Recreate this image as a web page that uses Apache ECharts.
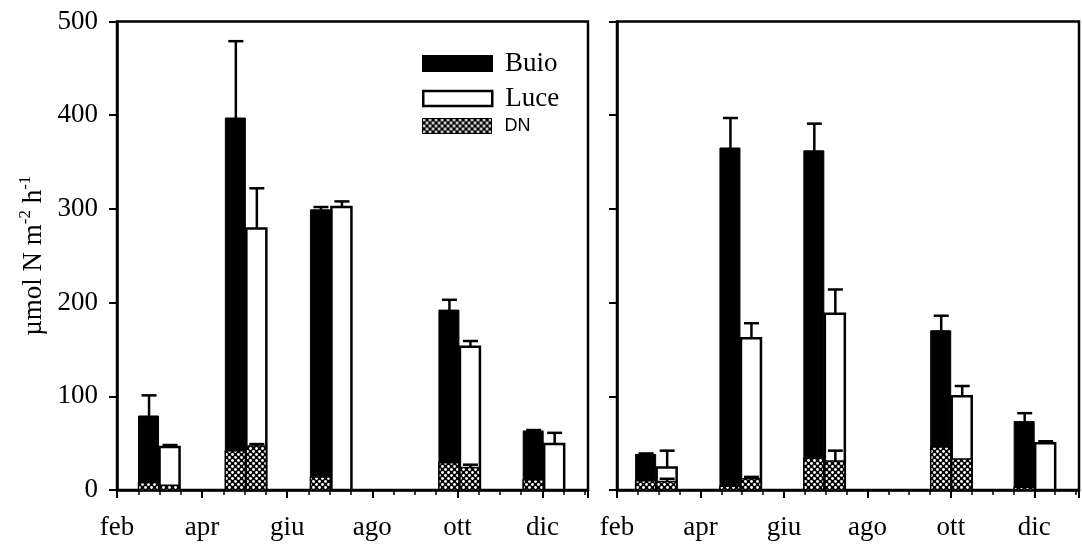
<!DOCTYPE html>
<html>
<head>
<meta charset="utf-8">
<script src="https://cdn.jsdelivr.net/npm/echarts@6/dist/echarts.min.js"></script>
<style>
  html, body { margin: 0; padding: 0; background: #fff; }
  #chart { width: 1082px; height: 544px; }
</style>
</head>
<body>
<div id="chart"></div>
<script>
// month ticks (feb = 2 ... dic = 12)
const tickMonths = [2, 4, 6, 8, 10, 12]
const tickLabels = ['feb', 'apr', 'giu', 'ago', 'ott', 'dic']

// sampling dates (month number) for each panel
const leftMonths = [3.0, 5.04, 7.04, 10.06, 12.04]
const rightMonths = [2.95, 4.97, 6.98, 10.02, 12.02]

// left panel: mean and standard error
const leftBuio = [79, 397, 299, 192, 63]
const leftBuioSE = [22, 82, 3, 11, 1]
const leftLuce = [46, 279, 302, 153, 49]
const leftLuceSE = [2, 43, 6, 6, 12]
const leftDNBuio = [8, 42, 14, 29, 11]
const leftDNLuce = [5, 47, 0, 24, 0]
const leftDNLuceSE = [0, 2, 0, 3, 0]

// right panel
const rightBuio = [38, 365, 362, 170, 73]
const rightBuioSE = [1, 32, 29, 16, 9]
const rightLuce = [24, 162, 188, 100, 50]
const rightLuceSE = [18, 16, 26, 11, 2]
const rightDNBuio = [10, 4, 34, 46, 3]
const rightDNLuce = [9, 12, 31, 33, 0]
const rightDNLuceSE = [3, 2, 11, 0, 0]

const BAR_W = 21
const SERIF = 'Liberation Serif'

// cross-hatch used for DN
function makeHatch () {
  const c = document.createElement('canvas')
  c.width = 6
  c.height = 6
  const g = c.getContext('2d')
  g.fillStyle = '#000'
  g.fillRect(0, 0, 6, 6)
  g.fillStyle = '#fff'
  g.beginPath(); g.arc(1.5, 1.5, 1.4, 0, Math.PI * 2); g.fill()
  g.beginPath(); g.arc(4.5, 4.5, 1.4, 0, Math.PI * 2); g.fill()
  return c
}
const hatch = { image: makeHatch(), repeat: 'repeat' }

const styles = {
  Buio: { fill: '#000', stroke: '#000', lineWidth: 1 },
  Luce: { fill: '#fff', stroke: '#000', lineWidth: 2.5 },
  DN: { fill: hatch, stroke: '#000', lineWidth: 1.5 }
}

function barRender (kind) {
  return function (params, api) {
    const x = api.value(0)
    const v = api.value(1)
    const side = api.value(2)
    if (!v) return null
    const base = api.coord([x, 0])
    const top = api.coord([x, v])
    const left = side < 0 ? base[0] - BAR_W : base[0]
    return {
      type: 'rect',
      shape: { x: left, y: top[1], width: BAR_W - 1, height: base[1] - top[1] },
      style: styles[kind]
    }
  }
}

function errRender (params, api) {
  const x = api.value(0)
  const mean = api.value(1)
  const se = api.value(2)
  const side = api.value(3)
  if (!se) return null
  const base = api.coord([x, 0])
  const cx = base[0] + side * (BAR_W / 2)
  const y1 = api.coord([x, mean])[1]
  const y2 = api.coord([x, mean + se])[1]
  const st = { stroke: '#000', lineWidth: 2.5 }
  return {
    type: 'group',
    children: [
      { type: 'line', shape: { x1: cx, y1: y1, x2: cx, y2: y2 }, style: st },
      { type: 'line', shape: { x1: cx - 7.5, y1: y2, x2: cx + 7.5, y2: y2 }, style: st }
    ]
  }
}

function panelSeries (idx, months, buio, buioSE, luce, luceSE, dnB, dnL, dnLSE) {
  const common = { type: 'custom', xAxisIndex: idx, yAxisIndex: idx, clip: false }
  return [
    Object.assign({}, common, {
      name: 'Buio', z: 2, renderItem: barRender('Buio'),
      itemStyle: { color: '#000' },
      data: months.map((m, i) => [m, buio[i], -1])
    }),
    Object.assign({}, common, {
      name: 'Luce', z: 2, renderItem: barRender('Luce'),
      itemStyle: { color: '#fff', borderColor: '#000', borderWidth: 2.5 },
      data: months.map((m, i) => [m, luce[i], 1])
    }),
    Object.assign({}, common, {
      name: 'DN', z: 3, renderItem: barRender('DN'),
      itemStyle: { color: hatch, borderColor: '#000', borderWidth: 1 },
      data: months.map((m, i) => [m, dnB[i], -1]).concat(months.map((m, i) => [m, dnL[i], 1]))
    }),
    Object.assign({}, common, {
      name: 'err', z: 4, renderItem: errRender,
      data: months.map((m, i) => [m, buio[i], buioSE[i], -1])
        .concat(months.map((m, i) => [m, luce[i], luceSE[i], 1]))
        .concat(months.map((m, i) => [m, dnL[i], dnLSE[i], 1]))
    })
  ]
}

function xAxisFor (idx) {
  return {
    type: 'value',
    gridIndex: idx,
    min: 2,
    max: 13.07,
    interval: 2,
    axisLine: { lineStyle: { color: '#000', width: 2.5 } },
    axisTick: { length: 8, lineStyle: { color: '#000', width: 2 } },
    minorTick: { show: true, splitNumber: 4, length: 5, lineStyle: { color: '#000', width: 1.5 } },
    splitLine: { show: false },
    axisLabel: {
      margin: 24,
      fontSize: 27,
      fontFamily: SERIF,
      color: '#000',
      formatter: (v) => {
        const k = tickMonths.indexOf(Math.round(v * 100) / 100)
        return k >= 0 ? tickLabels[k] : ''
      }
    }
  }
}

function yAxisFor (idx, showLabels) {
  return {
    type: 'value',
    gridIndex: idx,
    min: 0,
    max: 500,
    interval: 100,
    axisLine: { show: true, lineStyle: { color: '#000', width: 2.5 } },
    axisTick: { show: true, length: 8, lineStyle: { color: '#000', width: 2 } },
    splitLine: { show: false },
    axisLabel: { show: showLabels, margin: 19, fontSize: 27, fontFamily: SERIF, color: '#000' },
    name: showLabels ? '{a|µmol N m}{s|-2}{a| h}{s|-1}' : '',
    nameLocation: 'middle',
    nameGap: 70,
    nameRotate: 90,
    nameTextStyle: {
      rich: {
        a: { fontSize: 27, fontFamily: SERIF, color: '#000', lineHeight: 30, verticalAlign: 'bottom' },
        s: { fontSize: 17, fontFamily: SERIF, color: '#000', lineHeight: 30, verticalAlign: 'bottom', padding: [0, 0, 13, 0] }
      }
    }
  }
}

function legendFor (name, top, textStyle, itemStyle) {
  return {
    data: [{ name: name, icon: 'rect', itemStyle: itemStyle }],
    left: 422,
    top: top,
    padding: 0,
    itemWidth: 69,
    itemHeight: 15,
    itemGap: 15,
    selectedMode: false,
    textStyle: textStyle
  }
}

const chart = echarts.init(document.getElementById('chart'), null, { renderer: 'canvas' })

const option = {
  backgroundColor: '#fff',
  animation: false,
  grid: [
    { left: 117, top: 21.5, width: 471, height: 468.5, show: true, borderColor: '#000', borderWidth: 2.5 },
    { left: 617, top: 21.5, right: -4, height: 468.5, show: true, borderColor: '#000', borderWidth: 2.5 }
  ],
  legend: [
    legendFor('Buio', 50, { fontSize: 27, fontFamily: SERIF, color: '#000', padding: [0, 0, 0, 8] },
      { color: '#000', borderColor: '#000', borderWidth: 2 }),
    legendFor('Luce', 85, { fontSize: 27, fontFamily: SERIF, color: '#000', padding: [0, 0, 0, 8] },
      { color: '#fff', borderColor: '#000', borderWidth: 2.5 }),
    legendFor('DN', 117, { fontSize: 18, fontFamily: 'Liberation Sans', color: '#000', padding: [0, 0, 0, 8] },
      { color: hatch, borderColor: '#000', borderWidth: 1 })
  ],
  xAxis: [xAxisFor(0), xAxisFor(1)],
  yAxis: [yAxisFor(0, true), yAxisFor(1, false)],
  series: panelSeries(0, leftMonths, leftBuio, leftBuioSE, leftLuce, leftLuceSE, leftDNBuio, leftDNLuce, leftDNLuceSE)
    .concat(panelSeries(1, rightMonths, rightBuio, rightBuioSE, rightLuce, rightLuceSE, rightDNBuio, rightDNLuce, rightDNLuceSE))
}

chart.setOption(option)
</script>
</body>
</html>
